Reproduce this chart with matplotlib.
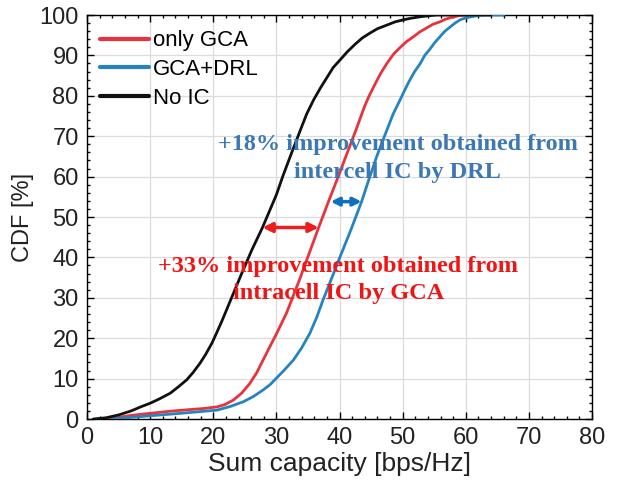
import matplotlib
matplotlib.use("Agg")
import matplotlib.pyplot as plt
from matplotlib.ticker import MultipleLocator

# ---- data ----
noic_x = [1, 3, 5, 7, 8.5, 10, 11.5, 13.2, 14.5, 15.8, 16.8, 17.9, 18.8, 19.8, 20.5, 21.3,
          22, 22.9, 24.5, 26.1, 27.8, 30, 31, 32.2, 33.8, 34.8, 35.9, 37, 38, 39, 40.1,
          41.3, 42.5, 43.6, 44.8, 46, 47.5, 48.8, 50.1, 51.3, 52.5, 54, 55.4, 60, 64]
noic_y = [0, 0.3, 1.0, 2.0, 3.0, 3.9, 5.0, 6.4, 8.0, 9.7, 11.5, 13.8, 16.0, 18.8, 21.2, 24.0,
          26.6, 30.0, 36.0, 41.8, 47.4, 55.5, 60, 65, 71.5, 75.5, 79, 82, 84.5, 87, 88.9,
          91, 92.8, 94.3, 95.5, 96.6, 97.5, 98.3, 98.8, 99.2, 99.5, 99.8, 100, 100, 100]

gca_x = [3.5, 5, 7, 10, 13, 16, 18.5, 20.6, 21.9, 23.2, 24.5, 25.8, 26.9, 27.9, 28.8, 29.8,
         30.7, 31.6, 33.5, 36.7, 38.3, 40, 41.3, 42.6, 43.3, 44, 44.7, 45.5, 46.5, 47.5,
         48.5, 49.5, 50.6, 51.7, 52.7, 53.8, 54.8, 55.9, 56.7, 57.5, 58.3, 59.1, 60.5, 62]
gca_y = [0, 0.4, 0.9, 1.4, 1.9, 2.3, 2.6, 3.0, 3.6, 4.7, 6.4, 8.8, 11.5, 14.6, 17.4, 20.4,
         23.3, 26.2, 33.8, 47.4, 54, 60.8, 66.2, 71.5, 74.5, 77.5, 80, 82.5, 85.5, 88,
         90.2, 91.8, 93.4, 94.6, 95.8, 96.8, 97.7, 98.3, 98.9, 99.3, 99.6, 99.9, 100, 100]

drl_x = [4, 7, 10, 14, 17, 20.6, 22.7, 24.8, 26.4, 27.9, 29, 30, 31.3, 32.7, 34, 35.3, 36.4,
         37.4, 38.7, 40, 41.8, 43.5, 44.7, 45.9, 46.7, 47.5, 48.5, 49.6, 50.3, 51, 51.9,
         52.8, 53.5, 54.3, 55.1, 55.9, 56.7, 57.5, 58.3, 59.1, 60, 61, 62, 63, 66]
drl_y = [0, 0.4, 0.8, 1.3, 1.7, 2.2, 3.1, 4.3, 5.6, 7.2, 8.5, 10.1, 12.2, 14.6, 17.6, 21.2,
         25.2, 29.5, 34.6, 39.8, 46.8, 53.8, 59.5, 65, 68.3, 71.5, 75.5, 79, 81.3, 83.5,
         86, 88, 90, 91.5, 93.2, 94.6, 96, 97, 98, 98.8, 99.3, 99.6, 99.9, 100, 100]

series_labels = ["only GCA", "GCA+DRL", "No IC"]
xticks = [0, 10, 20, 30, 40, 50, 60, 70, 80]
yticks = [0, 10, 20, 30, 40, 50, 60, 70, 80, 90, 100]

# arrows (data coords): x_left, x_right, y
red_arrow = (27.8, 36.7, 47.4)
blue_arrow = (38.6, 43.5, 53.8)

RED = "#E8323C"
BLUE = "#2484C0"
BLACK = "#111111"

fig = plt.figure(figsize=(6.29, 4.91), dpi=100)
ax = fig.add_axes([87 / 629, 1 - 419 / 491, (592 - 87) / 629, (419 - 15) / 491])

kw = dict(lw=2, solid_joinstyle="round", solid_capstyle="round")
ax.plot(gca_x, gca_y, color=RED, label=series_labels[0], zorder=3, **kw)
ax.plot(drl_x, drl_y, color=BLUE, label=series_labels[1], zorder=3, **kw)
ax.plot(noic_x, noic_y, color=BLACK, label=series_labels[2], zorder=4, **kw)

ax.set_xlim(0, 80)
ax.set_ylim(0, 100)
ax.set_xticks(xticks)
ax.set_yticks(yticks)
ax.xaxis.set_minor_locator(MultipleLocator(2))
ax.yaxis.set_minor_locator(MultipleLocator(2))
ax.tick_params(which="both", direction="in", top=True, right=True, width=1)
ax.tick_params(which="major", length=5, labelsize=17, pad=6)
ax.tick_params(which="minor", length=2.5)
for lab in ax.get_xticklabels() + ax.get_yticklabels():
    lab.set_family("Liberation Sans")
    lab.set_color("#222222")
ax.grid(True, which="major", color="#DCDCDC", lw=0.9)
ax.set_axisbelow(True)
for s in ax.spines.values():
    s.set_linewidth(1.0)

ax.set_xlabel("Sum capacity [bps/Hz]", fontsize=19, family="Liberation Sans",
              color="#222222", labelpad=2)
ax.set_ylabel("CDF [%]", fontsize=17, family="Liberation Sans", color="#222222",
              labelpad=4)

leg = ax.legend(loc="upper left", frameon=False,
                prop={"family": "Liberation Sans", "size": 16},
                handlelength=2.2, handletextpad=0.15, labelspacing=0.35,
                borderaxespad=0.2, bbox_to_anchor=(0.0, 0.995))
for h in leg.get_lines():
    h.set_linewidth(3)

# arrows
ax.annotate("", xy=(red_arrow[0], red_arrow[2]), xytext=(red_arrow[1], red_arrow[2]),
            arrowprops=dict(arrowstyle="<|-|>", color="#EE1C1C", lw=2.5,
                            mutation_scale=14, shrinkA=0, shrinkB=0), zorder=5)
ax.annotate("", xy=(blue_arrow[0], blue_arrow[2]), xytext=(blue_arrow[1], blue_arrow[2]),
            arrowprops=dict(arrowstyle="<|-|>", color="#1070BE", lw=2.5,
                            mutation_scale=12, shrinkA=0, shrinkB=0), zorder=5)

ax.text(49.2, 64.5, "+18% improvement obtained from\nintercell IC by DRL",
        ha="center", va="center", fontsize=17.5, family="Liberation Serif",
        fontweight="bold", color="#3C78B4", linespacing=1.45, zorder=6)
ax.text(39.8, 34.4, "+33% improvement obtained from\nintracell IC by GCA",
        ha="center", va="center", fontsize=17.5, family="Liberation Serif",
        fontweight="bold", color="#F01414", linespacing=1.35, zorder=6)

fig.savefig("out.png", dpi=100)
